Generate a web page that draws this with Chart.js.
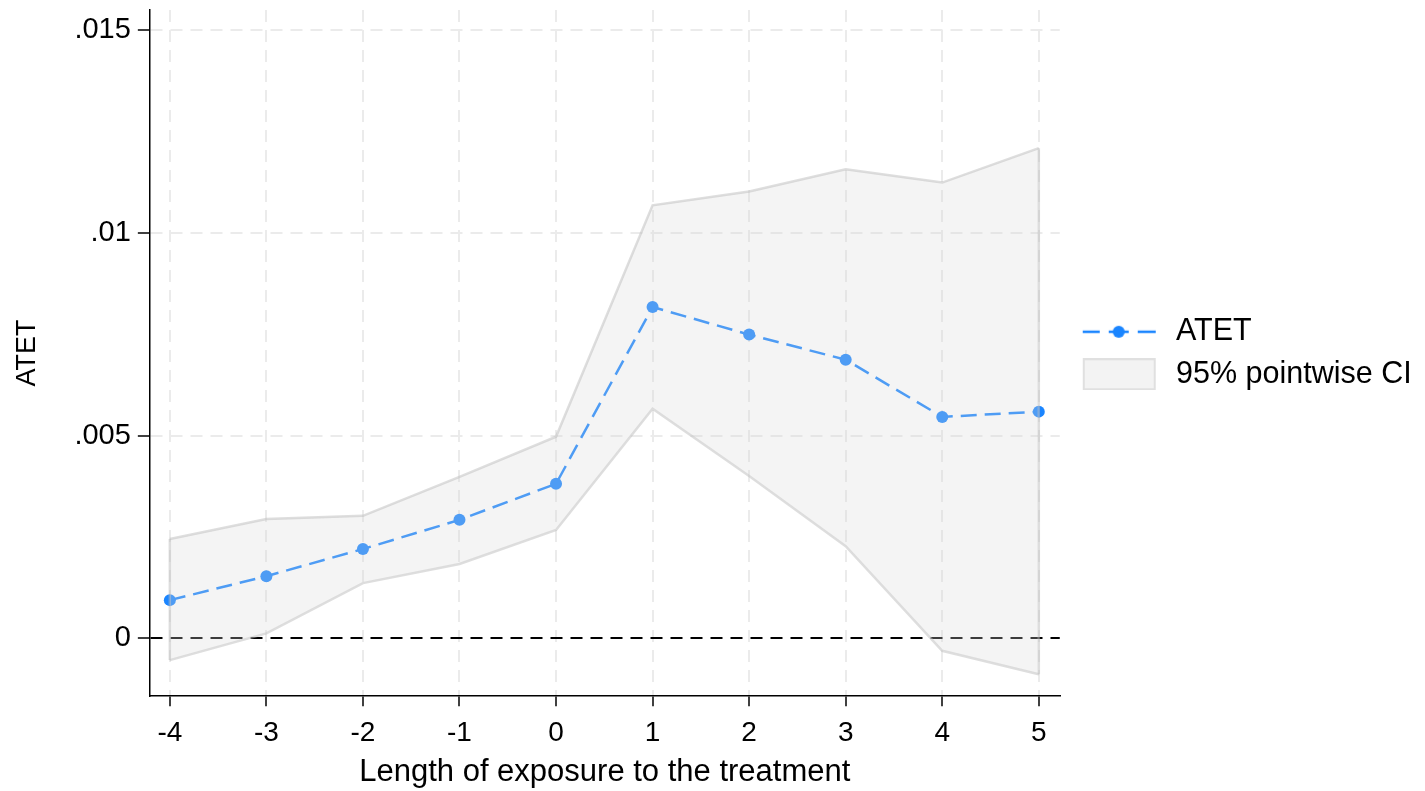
<!DOCTYPE html>
<html>
<head>
<meta charset="utf-8">
<title>ATET by length of exposure</title>
<script src="https://cdn.jsdelivr.net/npm/chart.js@4.4.1/dist/chart.umd.min.js"></script>
<style>
  body { margin: 0; background: #fff; }
  #wrap { width: 1425px; height: 791px; }
</style>
</head>
<body>
<div id="wrap"><canvas id="atet-chart" width="1425" height="791"></canvas></div>
<script>
// exposure periods
const periods = [-4, -3, -2, -1, 0, 1, 2, 3, 4, 5];
// point estimates
const atet = [0.00094, 0.00153, 0.0022, 0.00292, 0.00381, 0.00817, 0.00749, 0.00687, 0.00546, 0.00559];
// 95% pointwise CI bounds
const ciUpper = [0.00245, 0.00294, 0.00302, 0.00398, 0.00497, 0.01068, 0.01102, 0.01157, 0.01124, 0.01209];
const ciLower = [-0.00054, 0.00012, 0.00136, 0.00183, 0.00267, 0.00566, 0.0040, 0.00227, -0.00031, -0.00089];

const yTickValues = [0, 0.005, 0.01, 0.015];
const yTickLabels = ['0', '.005', '.01', '.015'];

const blue = '#1a85ff';
const ciLine = 'rgba(190,190,190,0.5)';
const ciFill = 'rgba(215,215,215,0.28)';

Chart.defaults.font.family = '"Liberation Sans", Arial, sans-serif';
Chart.defaults.color = '#000';

// legend symbols (drawn into small canvases, used as point styles)
function lineSymbol() {
  const c = document.createElement('canvas');
  c.width = 89; c.height = 16;
  const g = c.getContext('2d');
  g.strokeStyle = blue;
  g.fillStyle = blue;
  g.lineWidth = 2.5;
  g.beginPath();
  g.moveTo(11, 8); g.lineTo(28, 8);
  g.moveTo(37, 8); g.lineTo(57, 8);
  g.moveTo(66, 8); g.lineTo(84, 8);
  g.stroke();
  g.beginPath();
  g.arc(47, 8, 6, 0, Math.PI * 2);
  g.fill();
  return c;
}

function boxSymbol() {
  const c = document.createElement('canvas');
  c.width = 89; c.height = 32;
  const g = c.getContext('2d');
  g.fillStyle = '#f3f3f3';
  g.fillRect(11, 0, 73, 32);
  g.strokeStyle = '#e0e0e0';
  g.lineWidth = 2;
  g.strokeRect(12, 1, 71, 30);
  return c;
}

const pts = arr => periods.map((x, i) => ({ x: x, y: arr[i] }));
const first = 0, last = periods.length - 1;

new Chart(document.getElementById('atet-chart'), {
  type: 'line',
  data: {
    datasets: [{
      label: 'ATET',
      data: pts(atet),
      borderColor: blue,
      backgroundColor: blue,
      borderWidth: 2.5,
      borderDash: [16, 8],
      pointRadius: 6,
      pointBorderWidth: 0,
      pointBackgroundColor: blue,
      fill: false,
      order: 2
    }, {
      label: '95% pointwise CI',
      data: pts(ciUpper),
      borderColor: ciLine,
      backgroundColor: ciFill,
      borderWidth: 2.5,
      pointRadius: 0,
      fill: '+1',
      order: 1
    }, {
      label: 'lower',
      data: pts(ciLower),
      borderColor: ciLine,
      borderWidth: 2.5,
      pointRadius: 0,
      fill: false,
      order: 1
    }, {
      label: 'left edge',
      data: [{ x: periods[first], y: ciLower[first] }, { x: periods[first], y: ciUpper[first] }],
      borderColor: ciLine,
      borderWidth: 2.5,
      pointRadius: 0,
      fill: false,
      order: 1
    }, {
      label: 'right edge',
      data: [{ x: periods[last], y: ciLower[last] }, { x: periods[last], y: ciUpper[last] }],
      borderColor: ciLine,
      borderWidth: 2.5,
      pointRadius: 0,
      fill: false,
      order: 1
    }]
  },
  options: {
    responsive: false,
    animation: false,
    layout: { padding: { left: 0, right: 12, top: 0, bottom: 0 } },
    plugins: {
      tooltip: { enabled: false },
      legend: {
        position: 'right',
        fullSize: false,
        labels: {
          font: { size: 30.5 },
          color: '#000',
          usePointStyle: true,
          pointStyleWidth: 89,
          boxHeight: 31,
          padding: 12,
          generateLabels: () => [
            { text: 'ATET', pointStyle: lineSymbol(), datasetIndex: 0, fontColor: '#000', lineWidth: 0 },
            { text: '95% pointwise CI', pointStyle: boxSymbol(), datasetIndex: 1, fontColor: '#000', lineWidth: 0 }
          ]
        }
      }
    },
    scales: {
      x: {
        type: 'linear',
        min: -4.207,
        max: 5.217,
        afterBuildTicks: axis => { axis.ticks = periods.map(v => ({ value: v })); },
        ticks: { font: { size: 28 }, padding: 10, callback: v => String(v) },
        grid: { color: '#ebebeb', lineWidth: 2, tickColor: '#000', tickLength: 10, tickWidth: 1.5 },
        border: { display: true, color: '#000', width: 1.5, dash: [12, 8] },
        title: { display: true, text: 'Length of exposure to the treatment', font: { size: 31 }, padding: { top: -6, bottom: 0 } }
      },
      y: {
        type: 'linear',
        min: -0.00143,
        max: 0.0155,
        afterBuildTicks: axis => { axis.ticks = yTickValues.map(v => ({ value: v })); },
        ticks: {
          font: { size: 29, lineHeight: 0.2 },
          padding: 7,
          callback: v => yTickLabels[yTickValues.indexOf(v)]
        },
        grid: {
          color: c => (c.tick && c.tick.value === 0 ? '#000' : '#ebebeb'),
          lineWidth: 2,
          tickColor: '#000',
          tickLength: 12,
          tickWidth: 1.5
        },
        border: { display: true, color: '#000', width: 1.5, dash: [12, 8] },
        title: { display: true, text: 'ATET', font: { size: 27 }, padding: { top: 11, bottom: 24 } }
      }
    }
  }
});
</script>
</body>
</html>
